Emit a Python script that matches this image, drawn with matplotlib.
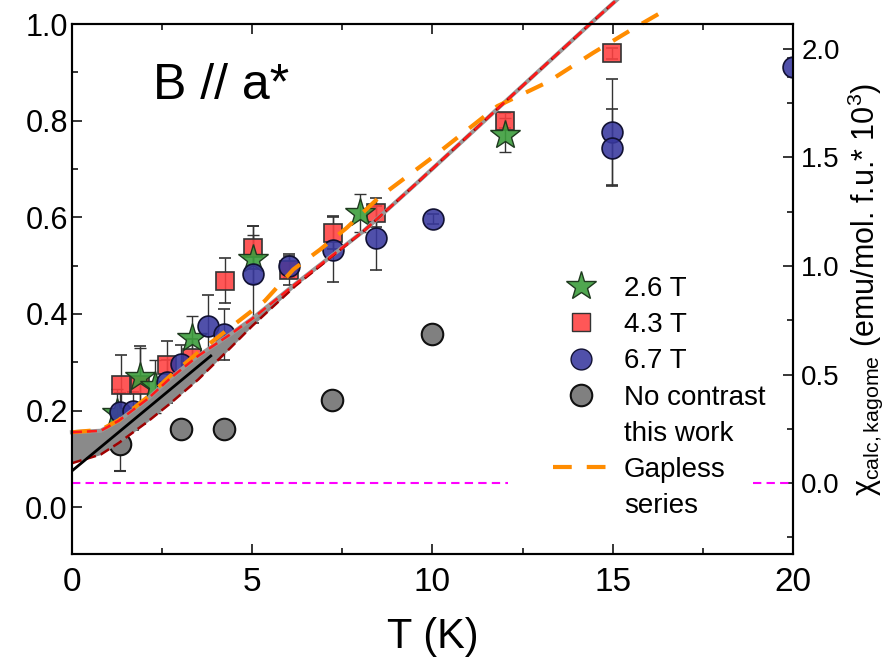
import matplotlib
matplotlib.use('Agg')
import matplotlib.pyplot as plt
from matplotlib.lines import Line2D
from matplotlib.ticker import MultipleLocator

plt.rcParams['font.family'] = ['Liberation Sans', 'DejaVu Sans']
plt.rcParams['mathtext.fontset'] = 'custom'
plt.rcParams['mathtext.rm'] = 'Liberation Sans'
plt.rcParams['mathtext.it'] = 'Liberation Sans:italic'

# ================== data ==================
# 2.6 T
T_26 = [1.25, 1.9, 2.3, 3.34, 5.03, 8.0, 12.0]
chi_26 = [0.195, 0.27, 0.25, 0.351, 0.513, 0.609, 0.77]
err_26 = [0.05, 0.06, 0.055, 0.045, 0.05, 0.04, 0.035]

# 4.3 T
T_43 = [1.35, 1.9, 2.63, 3.34, 4.24, 5.03, 6.03, 7.23, 8.42, 12.02, 14.99]
chi_43 = [0.252, 0.253, 0.294, 0.309, 0.469, 0.537, 0.49, 0.568, 0.609, 0.80, 0.939]
err_43 = [0.062, 0.08, 0.05, 0.04, 0.047, 0.044, 0.03, 0.034, 0.03, 0.015, 0.012]

# 6.7 T
T_67 = [1.33, 1.7, 2.63, 3.02, 3.78, 4.23, 5.03, 6.03, 7.23, 8.42, 10.02, 14.99, 14.99, 20.0]
chi_67 = [0.197, 0.199, 0.26, 0.296, 0.375, 0.358, 0.482, 0.499, 0.533, 0.557, 0.597,
          0.777, 0.744, 0.91]
err_67 = [0.04, 0.04, 0.045, 0.04, 0.065, 0.053, 0.1, 0.025, 0.067, 0.067, 0.01,
          0.11, 0.08, 0.02]

# no contrast
T_nc = [1.33, 3.02, 4.23, 7.22, 10.0]
chi_nc = [0.131, 0.161, 0.161, 0.221, 0.359]
err_nc = [0.056, 0.0, 0.0, 0.0, 0.0]

# calculated kagome susceptibility (band between two curves)
T_calc = [0, 0.8, 1.3, 2.1, 2.7, 3.5, 4.4, 5.0, 6.2, 8.1, 9.6, 12.0, 14.4, 15.2]
calc_upper = [0.155, 0.158, 0.179, 0.224, 0.265, 0.313, 0.358, 0.39, 0.462, 0.572,
              0.673, 0.838, 1.002, 1.056]
calc_lower = [0.091, 0.109, 0.133, 0.177, 0.213, 0.264, 0.33, 0.375, 0.458, 0.572,
              0.673, 0.838, 1.002, 1.056]

# linear low-T line
T_lin = [0.0, 3.85]
chi_lin = [0.075, 0.313]

# gapless series
T_gap = [0, 0.8, 1.3, 2.1, 2.7, 3.5, 4.57, 5.35, 6.14, 6.88, 7.62, 8.5, 9.93, 11.8,
         13.2, 14.45, 15.56, 16.6]
chi_gap = [0.155, 0.16, 0.18, 0.228, 0.27, 0.32, 0.382, 0.427, 0.492, 0.533, 0.578,
           0.64, 0.72, 0.83, 0.88, 0.94, 0.99, 1.035]

# zero line of the right axis (interrupted by the legend)
zero_T_left = [0, 12.1]
zero_T_right = [18.9, 20]
zero_val = [0, 0]

# ================== figure ==================
fig = plt.figure(figsize=(8.94, 6.63), dpi=100)
ax = fig.add_axes([0.0805, 0.1644, 0.8065, 0.7994])
ax2 = ax.twinx()

c_green = (0.24, 0.62, 0.24, 0.9)
c_red = (1.0, 0.25, 0.25, 0.88)
c_blue = (0.22, 0.22, 0.62, 0.88)
c_gray = (0.5, 0.5, 0.5, 1.0)
ebar = dict(ecolor='#333333', elinewidth=1.0, capsize=4, capthick=1.0, linestyle='none', zorder=3)

ax.errorbar(T_43, chi_43, yerr=err_43, fmt='s', ms=13.5, mfc=c_red, mec='#333333', mew=1.2, **ebar)
ax.errorbar(T_26, chi_26, yerr=err_26, fmt='*', ms=22, mfc=c_green, mec='#1f3a1f', mew=1.0, **ebar)
ax.errorbar(T_67, chi_67, yerr=err_67, fmt='o', ms=15, mfc=c_blue, mec='#111133', mew=1.2, **ebar)
ax.errorbar(T_nc, chi_nc, yerr=err_nc, fmt='o', ms=15.5, mfc=c_gray, mec='#111111', mew=1.5, **ebar)

# lines on top of the markers, not clipped at the top
ax.fill_between(T_calc, calc_lower, calc_upper, color='#8a8a8a', lw=0, zorder=4, clip_on=False)
ax.plot(T_calc, calc_upper, color='#999999', lw=3, zorder=4, clip_on=False)
ax.plot(T_gap, chi_gap, color='#ff8c00', lw=3, dashes=(4.5, 3.6), zorder=5, clip_on=False)
ax.plot(T_calc, calc_lower, color='#a00000', lw=1.8, dashes=(4, 2), zorder=6, clip_on=False)
ax.plot(T_calc, calc_upper, color='#ff1a1a', lw=1.8, dashes=(4, 2), dash_capstyle='butt',
        zorder=6, clip_on=False)
ax.plot(T_lin, chi_lin, color='black', lw=2, zorder=7)

ax2.plot(zero_T_left, zero_val, color='#ff00ff', lw=1.5, dashes=(4, 2.5))
ax2.plot(zero_T_right, zero_val, color='#ff00ff', lw=1.5, dashes=(4, 2.5))

ax.text(2.24, 0.845, 'B // a*', fontsize=36, ha='left', va='baseline')

# ================== axes ==================
ax.set_xlim(0, 20)
ax.set_ylim(-0.097, 1.0)
ax2.set_ylim(-0.327, 2.115)

ax.xaxis.set_major_locator(MultipleLocator(5))
ax.xaxis.set_minor_locator(MultipleLocator(2.5))
ax.yaxis.set_major_locator(MultipleLocator(0.2))
ax.yaxis.set_minor_locator(MultipleLocator(0.1))
ax2.yaxis.set_major_locator(MultipleLocator(0.5))
ax2.yaxis.set_minor_locator(MultipleLocator(0.25))

ax.tick_params(which='both', direction='in', top=True, right=False, width=1.1)
ax.tick_params(which='major', length=7.5)
ax.tick_params(which='minor', length=4)
ax.tick_params(axis='x', labelsize=24, pad=9)
ax.tick_params(axis='y', labelsize=22, pad=3)
ax2.tick_params(which='both', direction='in', width=1.1, labelsize=20, pad=6)
ax2.tick_params(which='major', length=7.5)
ax2.tick_params(which='minor', length=4)

for a in (ax, ax2):
    for s in a.spines.values():
        s.set_linewidth(1.5)

ax.set_xlabel('T (K)', fontsize=30, labelpad=14)
ax2.set_ylabel('χ$_{\\mathrm{calc,kagome}}$ (emu/mol. f.u.* 10$^3$)', fontsize=22, labelpad=4)

# ================== legend ==================
handles = [
    Line2D([], [], ls='none', marker='*', ms=22, mfc=c_green, mec='#1f3a1f'),
    Line2D([], [], ls='none', marker='s', ms=13.5, mfc=c_red, mec='#333333'),
    Line2D([], [], ls='none', marker='o', ms=15, mfc=c_blue, mec='#111133'),
    Line2D([], [], ls='none', marker='o', ms=15.5, mfc=c_gray, mec='#111111', mew=1.5),
    Line2D([], [], ls='none'),
    Line2D([], [], color='#ff8c00', lw=3, dashes=(4.5, 3.6)),
    Line2D([], [], ls='none'),
]
labels = ['2.6 T', '4.3 T', '6.7 T', 'No contrast', 'this work', 'Gapless', 'series']
ax2.legend(handles, labels, loc='upper left', bbox_to_anchor=(0.667, 0.525), frameon=False,
           fontsize=20, borderpad=0, borderaxespad=0, labelspacing=0.37,
           handlelength=2.0, handletextpad=0.55)

fig.savefig('out.png', dpi=100)
